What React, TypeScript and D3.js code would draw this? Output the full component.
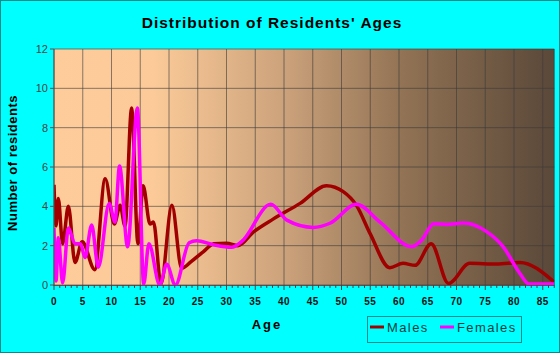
import React from "react";
import * as d3 from "d3";

const maleAges = [0, 0.35, 0.75, 1.5, 2.5, 3.65, 4.9, 7.1, 8.9, 10.5, 11.5, 12.35, 13.5, 14.6, 15.5, 16.7, 17.3, 18.6, 20.5, 22.2, 23.9, 26, 27.8, 30, 32, 34.7, 38.1, 42.8, 47.4, 50.3, 52.6, 55, 58.4, 60.7, 62.8, 65.6, 68.6, 72.3, 77, 81, 87];
const maleValues = [5.1, 3.0, 4.4, 2.1, 4.0, 1.15, 2.2, 0.78, 5.4, 3.1, 4.05, 3.0, 9.0, 2.1, 5.05, 3.1, 3.2, 0.05, 4.05, 0.85, 1.2, 1.7, 2.1, 2.12, 2.0, 2.7, 3.35, 4.15, 5.05, 4.75, 4.05, 2.6, 0.88, 1.1, 1.0, 2.1, 0.08, 1.1, 1.07, 1.15, 0.15];

const femaleAges = [0, 0.35, 0.75, 1.5, 2.5, 3.65, 4.6, 5.4, 6.55, 7.7, 9.6, 10.6, 11.4, 12.8, 14.5, 15.6, 16.5, 18.4, 19.6, 21.1, 23.5, 24.8, 27.7, 30.9, 32.6, 37.7, 40.5, 45.1, 48, 52.6, 56.7, 62.2, 64, 66, 68.3, 71.2, 75.3, 78.1, 81, 82.6, 87];
const femaleValues = [2.9, 0.2, 2.4, 0.1, 2.9, 2.1, 2.1, 1.4, 3.05, 0.9, 4.15, 3.2, 6.05, 1.95, 9.0, 0.05, 2.1, 0.0, 1.05, 0.0, 2.15, 2.25, 2.05, 1.92, 2.2, 4.1, 3.3, 2.93, 3.14, 4.1, 3.2, 1.95, 2.3, 3.12, 3.08, 3.15, 2.7, 1.95, 0.6, 0.05, 0.05];

const xTicks = d3.range(0, 90, 5);
const yTicks = [0, 2, 4, 6, 8, 10, 12];
const seriesNames = ["Males", "Females"];
const seriesColors = ["#a00000", "#ff00ff"];

const W = 560;
const H = 353;
const left = 54;
const right = 554.25;
const top = 49;
const bottom = 285;

export default function App() {
  const x = d3.scaleLinear().domain([0, 87]).range([left, right]);
  const y = d3.scaleLinear().domain([0, 12]).range([bottom, top]);
  const line = d3
    .line<[number, number]>()
    .x((d) => x(d[0]))
    .y((d) => y(d[1]))
    .curve(d3.curveMonotoneX);
  const male = maleAges.map((a, i) => [a, maleValues[i]] as [number, number]);
  const female = femaleAges.map((a, i) => [a, femaleValues[i]] as [number, number]);
  const minor = d3.range(0, 88, 1);
  const font = "Arial, 'Liberation Sans', sans-serif";

  return (
    <svg width={W} height={H} style={{ position: "absolute", left: 0, top: 0 }} fontFamily={font}>
      <defs>
        <linearGradient id="bg" x1="0" x2="1" y1="0" y2="0">
          <stop offset="0%" stopColor="#fdcc9a" />
          <stop offset="20%" stopColor="#fbca98" />
          <stop offset="45%" stopColor="#cea47d" />
          <stop offset="70%" stopColor="#917254" />
          <stop offset="100%" stopColor="#5a4839" />
        </linearGradient>
        <clipPath id="clip">
          <rect x={left} y={top - 2} width={right - left} height={bottom - top + 3} />
        </clipPath>
      </defs>
      <rect x={0.5} y={0.5} width={W - 1} height={H - 1} fill="#00ffff" stroke="#108888" />
      <text x={272} y={28} textAnchor="middle" fontSize={15.5} fontWeight="bold" letterSpacing={1} fill="#000">
        Distribution of Residents' Ages
      </text>
      <rect x={left} y={top} width={right - left} height={bottom - top} fill="url(#bg)" />
      {xTicks.map((t) => (
        <line key={"gx" + t} x1={x(t)} x2={x(t)} y1={top} y2={bottom} stroke="#3a3a3a" strokeOpacity={0.6} />
      ))}
      {yTicks.map((t) => (
        <line key={"gy" + t} x1={left} x2={right} y1={y(t)} y2={y(t)} stroke="#3a3a3a" strokeOpacity={0.6} />
      ))}
      <line x1={right} x2={right} y1={top} y2={bottom} stroke="#3a3a3a" strokeOpacity={0.6} />
      <g clipPath="url(#clip)">
        <path d={line(male) || ""} fill="none" stroke={seriesColors[0]} strokeWidth={3.5} strokeLinejoin="round" />
        <path d={line(female) || ""} fill="none" stroke={seriesColors[1]} strokeWidth={3.5} strokeLinejoin="round" />
      </g>
      {/* y axis */}
      <line x1={left} x2={left} y1={top} y2={bottom + 1} stroke="#555" />
      {yTicks.map((t) => (
        <g key={"yt" + t}>
          <line x1={left - 4} x2={left} y1={y(t)} y2={y(t)} stroke="#555" />
          <text x={48} y={y(t) + 4} textAnchor="end" fontSize={11} fill="#444">
            {t}
          </text>
        </g>
      ))}
      {/* x axis */}
      <line x1={left} x2={right} y1={bottom + 0.5} y2={bottom + 0.5} stroke="#555" />
      {minor.map((t) => (
        <line key={"mt" + t} x1={x(t)} x2={x(t)} y1={bottom} y2={bottom + (t % 5 === 0 ? 5 : 3)} stroke="#444" />
      ))}
      {xTicks.map((t) => (
        <text key={"xt" + t} x={x(t)} y={305} textAnchor="middle" fontSize={10} fontWeight="bold" letterSpacing={0.5} fill="#111">
          {t}
        </text>
      ))}
      <text x={267} y={329} textAnchor="middle" fontSize={13} fontWeight="bold" letterSpacing={2} fill="#000">
        Age
      </text>
      <text
        transform={`translate(17,163) rotate(-90)`}
        textAnchor="middle"
        fontSize={13}
        fontWeight="bold"
        letterSpacing={0.5}
        fill="#000"
      >
        Number of residents
      </text>
      {/* legend */}
      <rect x={367.5} y={316.5} width={154} height={26} fill="none" stroke="#158a8a" />
      <line x1={370} x2={384} y1={327} y2={327} stroke={seriesColors[0]} strokeWidth={3} />
      <text x={387} y={332} fontSize={13} letterSpacing={1.4} fill="#0c3d3d">
        {seriesNames[0]}
      </text>
      <line x1={440} x2={454} y1={327} y2={327} stroke={seriesColors[1]} strokeWidth={3} />
      <text x={457} y={332} fontSize={13} letterSpacing={1.4} fill="#0c3d3d">
        {seriesNames[1]}
      </text>
    </svg>
  );
}
